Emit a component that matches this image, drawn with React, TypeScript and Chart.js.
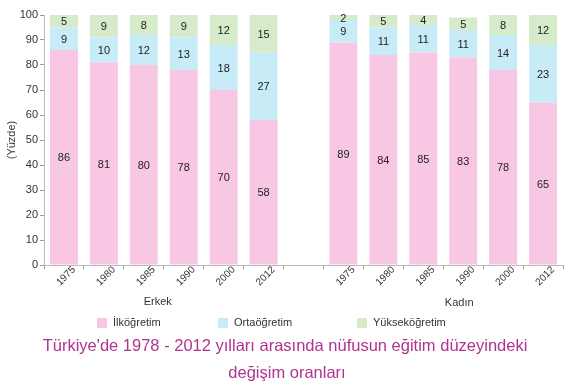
import React, { useEffect, useRef } from "react";
import { Chart, registerables } from "chart.js";

Chart.register(...registerables);

const categories = ["1975", "1980", "1985", "1990", "2000", "2012", "", "1975", "1980", "1985", "1990", "2000", "2012"];
const ilkogretim = [86, 81, 80, 78, 70, 58, null, 89, 84, 85, 83, 78, 65];
const ortaogretim = [9, 10, 12, 13, 18, 27, null, 9, 11, 11, 11, 14, 23];
const yuksekogretim = [5, 9, 8, 9, 12, 15, null, 2, 5, 4, 5, 8, 12];
const seriesNames = ["İlköğretim", "Ortaöğretim", "Yükseköğretim"];
const groupNames = ["Erkek", "Kadın"];
const titleLines = ["Türkiye'de 1978 - 2012 yılları arasında nüfusun eğitim düzeyindeki", "değişim oranları"];

const FONT = "'Liberation Sans', Arial, Helvetica, sans-serif";
const COLORS = ["#f7c7e4", "#c8ebf8", "#d6ebca"];

const valueLabels = {
  id: "valueLabels",
  afterDatasetsDraw(chart: any) {
    const ctx = chart.ctx;
    ctx.save();
    ctx.font = `11px ${FONT}`;
    ctx.fillStyle = "#222";
    ctx.textAlign = "center";
    ctx.textBaseline = "middle";
    chart.data.datasets.forEach((ds: any, di: number) => {
      const meta = chart.getDatasetMeta(di);
      meta.data.forEach((el: any, i: number) => {
        const v = ds.data[i];
        if (v === null || v === undefined) return;
        const p = el.getProps(["x", "y", "base"], true);
        ctx.fillText(String(v), p.x, (p.y + p.base) / 2 + 1);
      });
    });
    ctx.restore();
  },
};

const extras = {
  id: "extras",
  afterDraw(chart: any) {
    const ctx = chart.ctx;
    const xs = chart.scales.x;
    const bottom = chart.chartArea.bottom;
    ctx.save();
    // group labels
    ctx.font = `11px ${FONT}`;
    ctx.fillStyle = "#333";
    ctx.textAlign = "center";
    ctx.textBaseline = "middle";
    ctx.fillText(groupNames[0], xs.getPixelForValue(2.35), bottom + 37);
    ctx.fillText(groupNames[1], xs.getPixelForValue(9.9), bottom + 38);
    // legend
    const legendX = [97, 218, 357];
    const ly = bottom + 58;
    ctx.textAlign = "left";
    seriesNames.forEach((name, i) => {
      ctx.fillStyle = COLORS[i];
      ctx.fillRect(legendX[i], ly - 5, 10, 10);
      ctx.fillStyle = "#333";
      ctx.fillText(name, legendX[i] + 16, ly);
    });
    // title
    ctx.font = `16.5px ${FONT}`;
    ctx.fillStyle = "#b0338f";
    ctx.textAlign = "center";
    ctx.fillText(titleLines[0], 285, bottom + 81);
    ctx.fillText(titleLines[1], 287, bottom + 108);
    ctx.restore();
  },
};

export default function App() {
  const ref = useRef<HTMLCanvasElement>(null);
  useEffect(() => {
    if (!ref.current) return;
    const chart = new Chart(ref.current, {
      type: "bar",
      data: {
        labels: categories,
        datasets: [
          { label: seriesNames[0], data: ilkogretim, backgroundColor: COLORS[0] },
          { label: seriesNames[1], data: ortaogretim, backgroundColor: COLORS[1] },
          { label: seriesNames[2], data: yuksekogretim, backgroundColor: COLORS[2] },
        ],
      },
      options: {
        animation: false,
        responsive: false,
        devicePixelRatio: 1,
        layout: { padding: { left: 0, right: 12, top: 15, bottom: 97 } },
        datasets: { bar: { categoryPercentage: 1, barPercentage: 0.7 } },
        plugins: { legend: { display: false }, tooltip: { enabled: false }, title: { display: false } },
        scales: {
          x: {
            stacked: true,
            afterFit: (s: any) => { s.height = 30; },
            grid: { display: true, offset: true, drawOnChartArea: false, drawTicks: true, tickLength: 4, color: "#999", tickColor: "#999" },
            border: { color: "#bbb" },
            ticks: {
              autoSkip: false,
              maxRotation: 45,
              minRotation: 45,
              padding: -5,
              labelOffset: 10,
              color: "#333",
              font: { family: FONT, size: 10 },
            },
          },
          y: {
            stacked: true,
            min: 0,
            max: 100,
            afterFit: (s: any) => { s.width = 44; },
            grid: { display: true, drawOnChartArea: false, drawTicks: true, tickLength: 4, color: "#999", tickColor: "#999" },
            border: { color: "#bbb" },
            ticks: { stepSize: 10, padding: 2, color: "#333", font: { family: FONT, size: 11 } },
            title: { display: true, text: "(Yüzde)", color: "#333", font: { family: FONT, size: 11 }, padding: { top: 5, bottom: 0 } },
          },
        },
      },
      plugins: [valueLabels, extras],
    });
    return () => chart.destroy();
  }, []);
  return (
    <div style={{ position: "fixed", left: 0, top: 0, width: 575, height: 392, background: "#fff" }}>
      <canvas ref={ref} width={575} height={392} style={{ width: 575, height: 392, display: "block" }} />
    </div>
  );
}
